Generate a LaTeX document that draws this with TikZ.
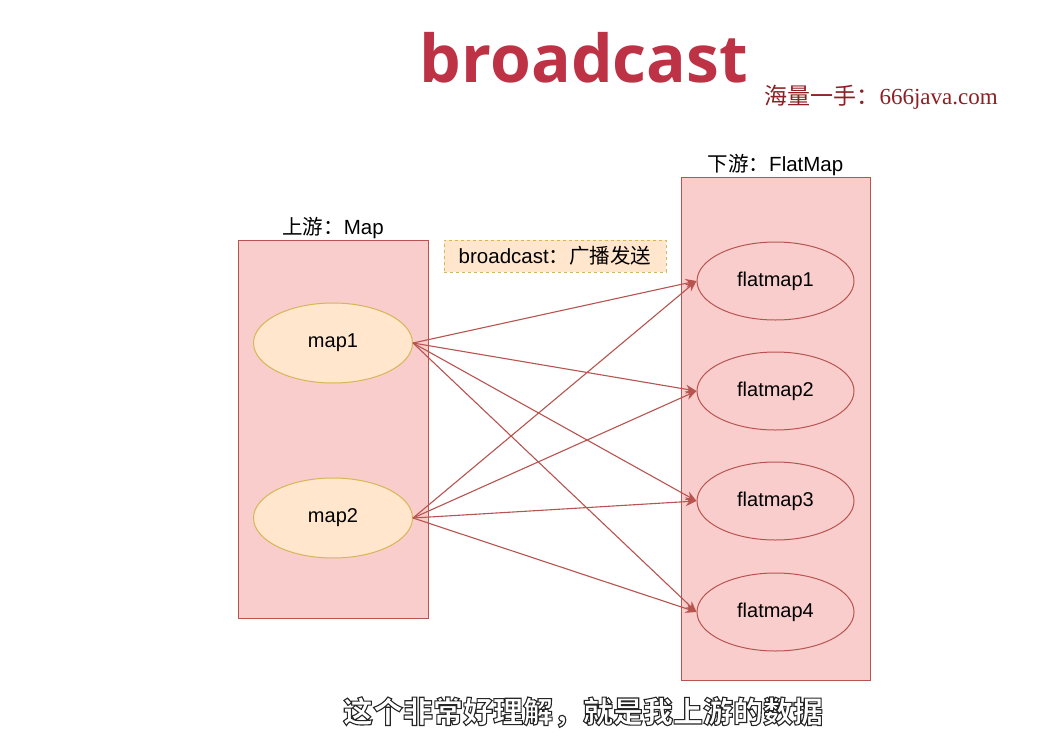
\documentclass[tikz,border=0pt]{standalone}
\usepackage{fontspec}
\setmainfont{Liberation Sans}
\newfontfamily\cjk{Noto Sans CJK SC}
\newfontfamily\titlefont{Open Sans}
\newfontfamily\markfont{Liberation Serif}
\usetikzlibrary{arrows.meta,positioning,shapes.geometric}
\definecolor{BoxRed}{RGB}{249,205,204}
\definecolor{LineRed}{RGB}{184,84,80}
\definecolor{NodePeach}{RGB}{255,230,204}
\definecolor{NodeGold}{RGB}{214,182,86}
\definecolor{TitleRed}{RGB}{190,50,70}
\definecolor{MarkRed}{RGB}{140,32,36}
\newcommand{\outlinetext}[1]{\special{pdf:literal direct 2 Tr 1.1 w 0.15 G 1 g}#1\special{pdf:literal direct 0 Tr 0 G}}

\begin{document}
\begin{tikzpicture}[x=1pt,y=-1pt,
  stage/.style={draw=LineRed,fill=BoxRed,line width=1pt,inner sep=0pt},
  upnode/.style={ellipse,draw=NodeGold,fill=NodePeach,line width=1pt,
    minimum width=159pt,minimum height=80pt,font=\fontsize{20}{22}\selectfont},
  downnode/.style={ellipse,draw=LineRed,fill=BoxRed,line width=1pt,
    minimum width=157pt,minimum height=78pt,font=\fontsize{20}{22}\selectfont},
  stagelabel/.style={font=\fontsize{20.5}{22}\selectfont,inner sep=1pt},
  flow/.style={draw=LineRed,line width=1.1pt,-{Stealth[length=11pt,width=9pt]}}]
\useasboundingbox[fill=white] (0,0) rectangle (1039,742);
% title and watermark
\node[font=\titlefont\bfseries\fontsize{66}{70}\selectfont,text=TitleRed,anchor=base] (title) at (584,82) {broadcast};
\node[font=\fontsize{23}{25}\selectfont,text=MarkRed,anchor=west] (mark) at (761,97) {{\cjk 海量一手：}\markfont 666java.com};
% stages
\node[stage,minimum width=190pt,minimum height=378pt] (upbox) at (333,429) {};
\node[stage,minimum width=189pt,minimum height=503pt] (downbox) at (775.5,428.5) {};
\node[stagelabel,above=0pt of upbox] (uplabel) {{\cjk 上游：}Map};
\node[stagelabel,above=0pt of downbox] (downlabel) {{\cjk 下游：}FlatMap};
\node[draw=NodeGold,fill=NodePeach,dashed,line width=1pt,minimum width=222pt,minimum height=32pt,
  font=\fontsize{20.5}{22}\selectfont] (tag) at (555,256) {broadcast{\cjk ：广播发送}};
% operators
\node[upnode] (map1) at (333,343) {map1};
\node[upnode] (map2) at (333,518) {map2};
\foreach \i/\y in {1/281,2/391,3/501,4/612}
  \node[downnode] (flatmap\i) at (775.5,\y) {flatmap\i};
\foreach \s in {map1,map2}
  \foreach \i in {1,...,4}
    \draw[flow] (\s.east) -- (flatmap\i.west);
% subtitle
\node[font=\cjk\bfseries\fontsize{30}{32}\selectfont,text=white] (caption) at (583,712) {\outlinetext{这个非常好理解，就是我上游的数据}};
\end{tikzpicture}
\end{document}
